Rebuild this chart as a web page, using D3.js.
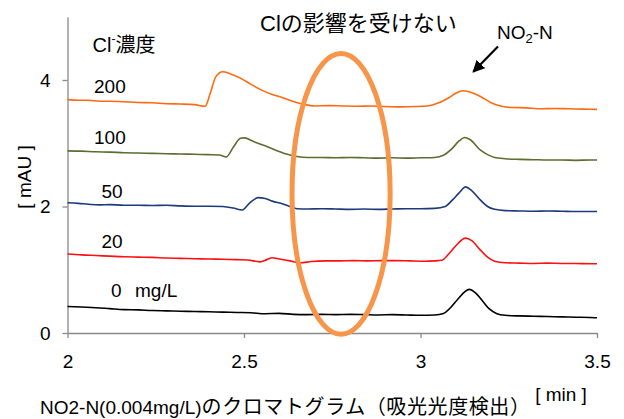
<!DOCTYPE html>
<html><head><meta charset="utf-8">
<script src="https://cdn.jsdelivr.net/npm/d3@7"></script>
<style>html,body{margin:0;padding:0;background:#fff;}svg{display:block;}</style>
</head><body>
<svg id="chart" width="624" height="419"></svg>
<script>
// ---- data ----
const xTicks = [2, 2.5, 3, 3.5];
const yTicks = [0, 2, 4];
const seriesNames = ["200", "100", "50", "20", "0"];

const time200 = [2.00,2.03,2.06,2.09,2.12,2.16,2.20,2.24,2.28,2.32,2.36,2.39,2.405,2.42,2.44,2.46,2.49,2.52,2.55,2.58,2.61,2.64,2.67,2.70,2.74,2.78,2.82,2.86,2.90,2.94,2.98,3.02,3.05,3.08,3.10,3.12,3.14,3.17,3.20,3.23,3.26,3.30,3.34,3.38,3.42,3.46,3.50];
const abs200  = [3.69,3.68,3.68,3.665,3.665,3.655,3.645,3.64,3.625,3.62,3.61,3.585,3.80,4.05,4.13,4.10,4.03,3.93,3.84,3.77,3.72,3.66,3.615,3.59,3.595,3.59,3.585,3.59,3.58,3.575,3.58,3.59,3.635,3.72,3.79,3.83,3.81,3.74,3.64,3.585,3.565,3.56,3.545,3.55,3.545,3.54,3.535];

const time100 = [2.00,2.04,2.08,2.12,2.16,2.20,2.24,2.28,2.32,2.36,2.40,2.43,2.45,2.47,2.49,2.50,2.53,2.56,2.59,2.62,2.65,2.68,2.72,2.76,2.80,2.84,2.88,2.92,2.96,3.00,3.04,3.065,3.09,3.11,3.125,3.14,3.17,3.19,3.21,3.24,3.28,3.32,3.36,3.40,3.44,3.48,3.50];
const abs100  = [2.88,2.875,2.865,2.86,2.85,2.845,2.84,2.835,2.83,2.825,2.82,2.815,2.785,2.94,3.08,3.085,3.02,2.96,2.89,2.83,2.79,2.775,2.775,2.77,2.775,2.77,2.765,2.77,2.765,2.77,2.775,2.81,2.92,3.04,3.09,3.06,2.89,2.82,2.775,2.755,2.745,2.74,2.735,2.735,2.73,2.735,2.735];

const time50 = [2.00,2.03,2.06,2.09,2.12,2.16,2.20,2.24,2.28,2.32,2.36,2.40,2.44,2.47,2.495,2.515,2.54,2.56,2.58,2.61,2.63,2.65,2.68,2.72,2.76,2.80,2.84,2.88,2.92,2.96,3.00,3.04,3.07,3.09,3.11,3.128,3.145,3.17,3.19,3.21,3.24,3.28,3.32,3.36,3.40,3.44,3.48,3.50];
const abs50  = [2.06,2.05,2.035,2.025,2.03,2.02,2.02,2.015,2.02,2.01,2.005,2.005,2.00,1.975,1.945,2.05,2.14,2.125,2.085,2.04,2.00,1.965,1.96,1.965,1.96,1.955,1.96,1.955,1.96,1.965,1.965,1.97,2.00,2.10,2.22,2.31,2.25,2.10,2.00,1.955,1.935,1.93,1.925,1.93,1.925,1.92,1.92,1.92];

const time20 = [2.00,2.04,2.08,2.12,2.16,2.20,2.24,2.28,2.32,2.36,2.40,2.44,2.48,2.51,2.545,2.565,2.58,2.60,2.63,2.66,2.69,2.73,2.77,2.81,2.85,2.89,2.93,2.97,3.01,3.04,3.06,3.08,3.10,3.128,3.145,3.17,3.19,3.21,3.24,3.28,3.32,3.36,3.40,3.44,3.48,3.50];
const abs20  = [1.25,1.235,1.225,1.215,1.205,1.20,1.195,1.185,1.18,1.175,1.17,1.165,1.16,1.155,1.125,1.16,1.19,1.17,1.14,1.11,1.13,1.14,1.14,1.145,1.14,1.145,1.145,1.14,1.135,1.14,1.15,1.25,1.38,1.50,1.46,1.31,1.20,1.135,1.11,1.105,1.10,1.105,1.10,1.10,1.095,1.095];

const time0 = [2.00,2.04,2.08,2.12,2.16,2.20,2.24,2.28,2.32,2.36,2.40,2.44,2.48,2.52,2.56,2.60,2.64,2.68,2.72,2.76,2.80,2.84,2.88,2.92,2.96,3.00,3.04,3.065,3.085,3.105,3.125,3.138,3.155,3.178,3.195,3.215,3.24,3.28,3.32,3.36,3.40,3.44,3.48,3.50];
const abs0  = [0.42,0.41,0.40,0.385,0.37,0.365,0.355,0.35,0.345,0.34,0.335,0.33,0.325,0.32,0.305,0.31,0.295,0.29,0.295,0.29,0.295,0.29,0.285,0.29,0.285,0.28,0.285,0.31,0.40,0.53,0.65,0.69,0.64,0.49,0.38,0.31,0.28,0.27,0.265,0.26,0.255,0.25,0.245,0.24];

// annotation anchors (data units)
const ellipseCenter = [2.775, 2.2];
const ellipseRadius = [0.139, 2.22];
const arrowFrom = [3.2195, 4.53];
const arrowTo = [3.1496, 4.13];

// ---- drawing ----
const FONT = "'Liberation Sans', Arial, 'Noto Sans CJK JP', sans-serif";
const svg = d3.select("#chart").style("font-family", FONT);
const x = d3.scaleLinear().domain([2, 3.5]).range([67.5, 597]);
const y = d3.scaleLinear().domain([0, 5]).range([333, 16.75]);
const axisColor = "#898989";

const series = [
  {name: seriesNames[0], t: time200, v: abs200, color: "#ff6a10"},
  {name: seriesNames[1], t: time100, v: abs100, color: "#5a6e2f"},
  {name: seriesNames[2], t: time50,  v: abs50,  color: "#1c3a7c"},
  {name: seriesNames[3], t: time20,  v: abs20,  color: "#ff1010"},
  {name: seriesNames[4], t: time0,   v: abs0,   color: "#000000"}
];

// axes
const gx = svg.append("g").attr("transform", `translate(0,${y(0)})`)
  .call(d3.axisBottom(x).tickValues(xTicks).tickFormat(d3.format("")).tickSize(5).tickSizeOuter(0).tickPadding(17));
const gy = svg.append("g").attr("transform", `translate(${x(2)},0)`)
  .call(d3.axisLeft(y).tickValues(yTicks).tickFormat(d3.format("d")).tickSize(5).tickSizeOuter(0).tickPadding(12));
[gx, gy].forEach(g => {
  g.select(".domain").attr("stroke", axisColor).attr("stroke-width", 1.3);
  g.selectAll(".tick line").attr("stroke", axisColor).attr("stroke-width", 1.3);
  g.selectAll(".tick text").attr("fill", "#000").style("font-family", FONT).style("font-size", "19px");
});

// lines
const line = d3.line().x(d => x(d[0])).y(d => y(d[1])).curve(d3.curveMonotoneX);
series.forEach(s => {
  const pts = s.t.map((t, i) => [t, s.v[i]]);
  svg.append("path").datum(pts).attr("d", line)
    .attr("fill", "none").attr("stroke", s.color).attr("stroke-width", 1.6)
    .attr("stroke-linejoin", "round");
});

// ellipse annotation
svg.append("ellipse")
  .attr("cx", x(ellipseCenter[0])).attr("cy", y(ellipseCenter[1]))
  .attr("rx", x(2 + ellipseRadius[0]) - x(2)).attr("ry", y(0) - y(ellipseRadius[1]))
  .attr("fill", "none").attr("stroke", "#f7964a").attr("stroke-width", 5);

// arrow
svg.append("defs").append("marker").attr("id", "ah")
  .attr("viewBox", "0 0 10 10").attr("refX", 9).attr("refY", 5)
  .attr("markerWidth", 5.5).attr("markerHeight", 5.5).attr("markerUnits", "strokeWidth")
  .attr("orient", "auto")
  .append("path").attr("d", "M0,0 L10,5 L0,10 z").attr("fill", "#000");
svg.append("line")
  .attr("x1", x(arrowFrom[0])).attr("y1", y(arrowFrom[1]))
  .attr("x2", x(arrowTo[0])).attr("y2", y(arrowTo[1]))
  .attr("stroke", "#000").attr("stroke-width", 2.2).attr("marker-end", "url(#ah)");

// texts
function txt(xp, yp, s, size, anchor) {
  return svg.append("text").attr("x", xp).attr("y", yp).attr("font-size", size)
    .attr("text-anchor", anchor || "start").attr("fill", "#000").text(s);
}
txt(260, 30.5, "Clの影響を受けない", 22);
const nt = svg.append("text").attr("x", 497).attr("y", 39).attr("font-size", 19).attr("fill", "#000");
nt.append("tspan").text("NO");
nt.append("tspan").attr("font-size", 13).attr("dy", 4).text("2");
nt.append("tspan").attr("dy", -4).text("-N");

const ct = svg.append("text").attr("x", 92.5).attr("y", 51.5).attr("font-size", 20).attr("fill", "#000");
ct.append("tspan").text("Cl");
ct.append("tspan").attr("font-size", 12).attr("dy", -9).text("-");
ct.append("tspan").attr("dy", 9).text("濃度");

txt(94, 93, seriesNames[0], 19);
txt(94, 144, seriesNames[1], 19);
txt(101.5, 198, seriesNames[2], 19);
txt(101.5, 248, seriesNames[3], 19);
txt(111, 296.5, seriesNames[4], 19);
txt(135, 296.5, "mg/L", 19);

svg.append("text").attr("transform", "translate(31,177) rotate(-90)")
  .attr("text-anchor", "middle").attr("font-size", 19).attr("fill", "#000").text("[ mAU ]");
txt(561, 400.5, "[ min ]", 19, "middle");
const xt = svg.append("text").attr("x", 40).attr("y", 413.5).attr("font-size", 19).attr("fill", "#000");
xt.append("tspan").text("NO2-N(0.004mg/L)");
xt.append("tspan").attr("font-size", 20).attr("letter-spacing", 0.6).text("のクロマトグラム（吸光光度検出）");
</script>
</body></html>
